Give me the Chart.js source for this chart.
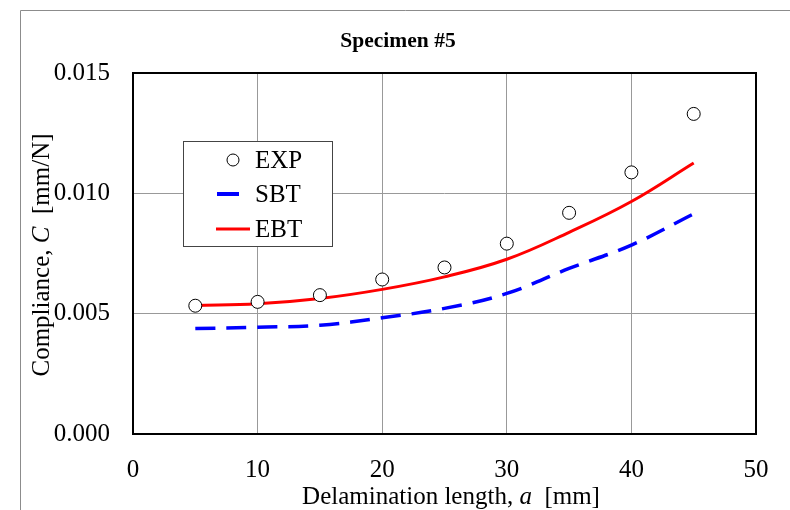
<!DOCTYPE html>
<html>
<head>
<meta charset="utf-8">
<script src="https://cdn.jsdelivr.net/npm/chart.js@4"></script>
<style>
  html, body { margin: 0; padding: 0; background: #fff; }
  canvas { display: block; }
</style>
</head>
<body>
<canvas id="complianceChart" width="790" height="510"></canvas>
<script>
// delamination length a [mm] and compliance C [mm/N]
const lengths = [5, 10, 15, 20, 25, 30, 35, 40, 45];
const expValues = [0.00533, 0.00549, 0.00577, 0.00642, 0.00692, 0.00791, 0.00919, 0.01087, 0.01330];
const sbtValues = [0.00438, 0.00444, 0.00452, 0.00483, 0.00522, 0.00584, 0.00688, 0.00785, 0.00915];
const ebtValues = [0.00534, 0.00541, 0.00563, 0.00601, 0.00653, 0.00726, 0.00838, 0.00966, 0.01126];
const xTicks = [0, 10, 20, 30, 40, 50];
const yTicks = [0, 0.005, 0.010, 0.015];

const serif = 'Liberation Serif';
const toPoints = vals => lengths.map((a, i) => ({ x: a, y: vals[i] }));

// writes a line of text where some parts are italic, centred on x
function drawMixed(ctx, parts, x, y, size) {
  let total = 0;
  parts.forEach(p => {
    ctx.font = (p[1] ? 'italic ' : '') + size + 'px "' + serif + '"';
    total += ctx.measureText(p[0]).width;
  });
  let cx = x - total / 2;
  parts.forEach(p => {
    ctx.font = (p[1] ? 'italic ' : '') + size + 'px "' + serif + '"';
    ctx.fillText(p[0], cx, y);
    cx += ctx.measureText(p[0]).width;
  });
}

const decorations = {
  id: 'decorations',
  beforeDraw(chart) {
    const ctx = chart.ctx;
    ctx.save();
    ctx.strokeStyle = '#8c8c8c';
    ctx.lineWidth = 1;
    ctx.beginPath();
    ctx.moveTo(20.5, 520);
    ctx.lineTo(20.5, 10.5);
    ctx.lineTo(800, 10.5);
    ctx.stroke();
    ctx.restore();
  },
  beforeDatasetsDraw(chart) {
    const { ctx, chartArea: a } = chart;
    ctx.save();
    ctx.strokeStyle = '#000';
    ctx.lineWidth = 2;
    ctx.strokeRect(a.left, a.top, a.right - a.left, a.bottom - a.top);
    ctx.restore();
  },
  afterDraw(chart) {
    const ctx = chart.ctx;
    ctx.save();
    ctx.fillStyle = '#000';
    ctx.textBaseline = 'middle';

    ctx.textAlign = 'center';
    ctx.font = 'bold 21.5px "' + serif + '"';
    ctx.fillText('Specimen #5', 398, 41);

    ctx.textAlign = 'left';
    drawMixed(ctx, [['Delamination length, ', false], ['a', true], ['  [mm]', false]], 451, 497, 25);

    ctx.save();
    ctx.translate(42, 255);
    ctx.rotate(-Math.PI / 2);
    drawMixed(ctx, [['Compliance, ', false], ['C', true], ['  [mm/N]', false]], 0, 0, 25);
    ctx.restore();

    // legend box
    ctx.fillStyle = '#fff';
    ctx.fillRect(183, 141, 150, 106);
    ctx.strokeStyle = '#444';
    ctx.lineWidth = 1;
    ctx.strokeRect(183.5, 141.5, 149, 105);

    const ds = chart.data.datasets;
    ctx.beginPath();
    ctx.arc(233, 160, 6, 0, Math.PI * 2);
    ctx.fillStyle = '#fff';
    ctx.fill();
    ctx.strokeStyle = ds[0].borderColor;
    ctx.lineWidth = 1;
    ctx.stroke();

    ctx.strokeStyle = ds[1].borderColor;
    ctx.lineWidth = 4;
    ctx.beginPath();
    ctx.moveTo(217, 194);
    ctx.lineTo(239, 194);
    ctx.stroke();

    ctx.strokeStyle = ds[2].borderColor;
    ctx.lineWidth = 3;
    ctx.beginPath();
    ctx.moveTo(216, 229);
    ctx.lineTo(250, 229);
    ctx.stroke();

    ctx.fillStyle = '#000';
    ctx.font = '25px "' + serif + '"';
    ctx.fillText(ds[0].label, 255, 161);
    ctx.fillText(ds[1].label, 255, 195);
    ctx.fillText(ds[2].label, 255, 230);
    ctx.restore();
  }
};

new Chart(document.getElementById('complianceChart'), {
  type: 'scatter',
  data: {
    datasets: [
      {
        label: 'EXP',
        data: toPoints(expValues),
        showLine: false,
        pointRadius: 6.5,
        pointBackgroundColor: '#fff',
        borderColor: '#000',
        pointBorderWidth: 1
      },
      {
        label: 'SBT',
        data: toPoints(sbtValues),
        showLine: true,
        borderColor: '#0000ff',
        borderWidth: 3.5,
        borderDash: [20, 11],
        tension: 0.4,
        pointRadius: 0
      },
      {
        label: 'EBT',
        data: toPoints(ebtValues),
        showLine: true,
        borderColor: '#ff0000',
        borderWidth: 3,
        tension: 0.4,
        pointRadius: 0
      }
    ]
  },
  options: {
    responsive: false,
    animation: false,
    layout: { padding: { left: 0, right: 34, top: 73, bottom: 0 } },
    plugins: {
      legend: { display: false },
      tooltip: { enabled: false },
      title: { display: false }
    },
    scales: {
      x: {
        type: 'linear',
        min: 0,
        max: 50,
        afterBuildTicks: scale => { scale.ticks = xTicks.map(v => ({ value: v })); },
        afterFit: scale => { scale.height = 76; },
        grid: { color: '#999', lineWidth: 1, drawTicks: false },
        border: { display: false },
        ticks: {
          padding: 21,
          color: '#000',
          font: { family: serif, size: 25 },
          maxRotation: 0
        }
      },
      y: {
        type: 'linear',
        min: 0,
        max: 0.015,
        afterBuildTicks: scale => { scale.ticks = yTicks.map(v => ({ value: v })); },
        afterFit: scale => { scale.width = 133; },
        grid: { color: '#999', lineWidth: 1, drawTicks: false },
        border: { display: false },
        ticks: {
          padding: 23,
          color: '#000',
          font: { family: serif, size: 25 },
          callback: v => v.toFixed(3)
        }
      }
    }
  },
  plugins: [decorations]
});
</script>
</body>
</html>
